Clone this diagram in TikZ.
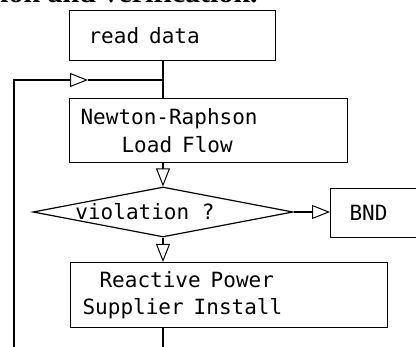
\documentclass[tikz,border=0pt]{standalone}
\usepackage{fontspec}
\usetikzlibrary{shapes.geometric,arrows.meta}
\newfontfamily\flowfont{DejaVu Sans Mono}
\newfontfamily\capfont{Liberation Serif}
\begin{document}
\begin{tikzpicture}[x=1pt, y=-1pt,
    box/.style={draw, line width=1.2pt, anchor=north west, align=left, inner ysep=0pt,
        font=\flowfont\fontsize{21}{27.5}\selectfont,
        execute at begin node={\spaceskip=10pt\relax}},
    decision/.style={draw, shape=diamond, shape aspect=5.2, line width=1.2pt, inner sep=0pt,
        minimum width=260pt, minimum height=50pt, font=\flowfont\fontsize{21}{27.5}\selectfont},
    flow/.style={line width=1.2pt, -{Triangle[open, length=18pt, width=14pt, line width=1pt]}}]
    \useasboundingbox (0,0) rectangle (416,347);
    \clip (0,0) rectangle (416,347);

    % Caption line cut off at the top
    \node[anchor=base west, inner sep=0pt, font=\capfont\bfseries\fontsize{30}{30}\selectfont]
        (cap) at (0,3) {ion and verification.};

    % Boxes
    \node[box, inner xsep=19pt, text width=168pt, minimum height=50pt] (read) at (69,10) {read data};
    \node[box, inner xsep=11pt, text width=256pt, minimum height=64pt] (nr) at (69,98)
        {Newton-Raphson\\\hspace*{41pt}Load Flow};
    \node[decision] (viol) at (163,212) {\hspace*{-36pt}violation ?};
    \node[box, inner xsep=19pt, text width=80pt, minimum height=49pt] (end) at (330,188) {BND};
    \node[box, inner xsep=12pt, text width=293pt, minimum height=65pt] (rps) at (70,262)
        {\hspace*{17pt}Reactive Power\\Supplier Install};

    % Loop back points
    \coordinate (bot) at (163,365);
    \coordinate (lft) at (14,365);
    \coordinate (back) at (14,80);
    \coordinate (mid) at (88,80);
    \coordinate (join) at (163,80);

    % Connectors
    \draw[line width=1.2pt] (read.south -| viol) -- (nr.north -| viol);
    \draw[flow] (nr.south -| viol) -- (viol.north);
    \draw[flow] (viol.south) -- (rps.north -| viol);
    \draw[flow] (viol.east) -- (end.west |- viol.east);
    \draw[flow] (rps.south -| viol) -- (bot) -- (lft) -- (back) -- (mid);
    \draw[line width=1.2pt] (mid) -- (join);
\end{tikzpicture}
\end{document}
